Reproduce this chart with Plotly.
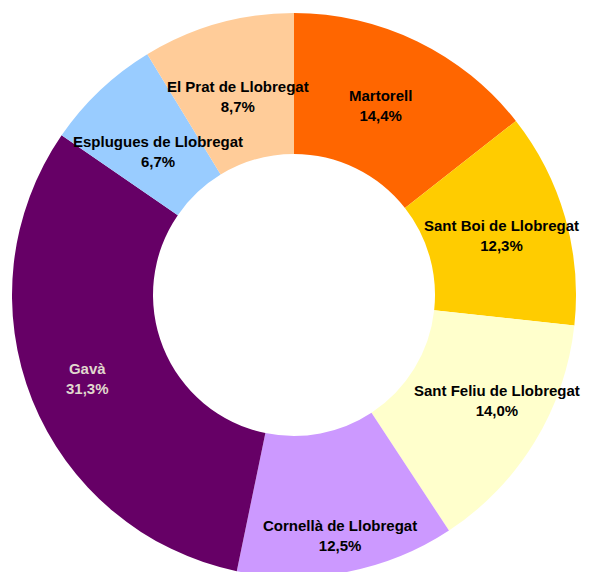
import math

import plotly.graph_objects as go

# Share by municipality (percent), clockwise from 12 o'clock
municipalities = [
    "Martorell",
    "Sant Boi de Llobregat",
    "Sant Feliu de Llobregat",
    "Cornellà de Llobregat",
    "Gavà",
    "Esplugues de Llobregat",
    "El Prat de Llobregat",
]
shares = [14.4, 12.3, 14.0, 12.5, 31.3, 6.7, 8.7]

COLORS = ["#FF6600", "#FFCC00", "#FFFFCC", "#CC99FF", "#660066", "#99CCFF", "#FFCC99"]
LABEL_COLORS = ["#000000"] * 4 + ["#E0D8CE"] + ["#000000"] * 2
# label placement: radius as a fraction of the outer radius, angle nudge in degrees
LABEL_RADIUS = [0.74, 0.765, 0.81, 0.87, 0.79, 0.70, 0.73]
LABEL_NUDGE = [-1.5, 0, -4, 0, 0, 0, 0]

HOLE = 0.5
FONT = "Liberation Sans, Arial, sans-serif"

fig = go.Figure(go.Pie(
    labels=municipalities,
    values=shares,
    sort=False,
    direction="clockwise",
    rotation=0,
    hole=HOLE,
    marker=dict(colors=COLORS, line=dict(width=0)),
    textinfo="none",
    hoverinfo="label+percent",
    showlegend=False,
))

# labels at the middle angle of each slice
total = sum(shares)
cum = 0.0
for name, val, col, rf, nudge in zip(municipalities, shares, LABEL_COLORS,
                                     LABEL_RADIUS, LABEL_NUDGE):
    theta = 2 * math.pi * (cum + val / 2) / total + math.radians(nudge)
    cum += val
    pct = f"{val:.1f}%".replace(".", ",")
    fig.add_annotation(
        x=0.5 + 0.5 * rf * math.sin(theta),
        y=0.5 + 0.5 * rf * math.cos(theta),
        xref="paper", yref="paper",
        xanchor="center", yanchor="middle",
        text=f"<b>{name}<br>{pct}</b>",
        showarrow=False,
        font=dict(family=FONT, size=15, color=col),
        align="center",
    )

fig.update_layout(
    width=590,
    height=572,
    margin=dict(l=4, r=22, t=5, b=3),
    paper_bgcolor="white",
    plot_bgcolor="white",
)

fig.write_html("out.html")
